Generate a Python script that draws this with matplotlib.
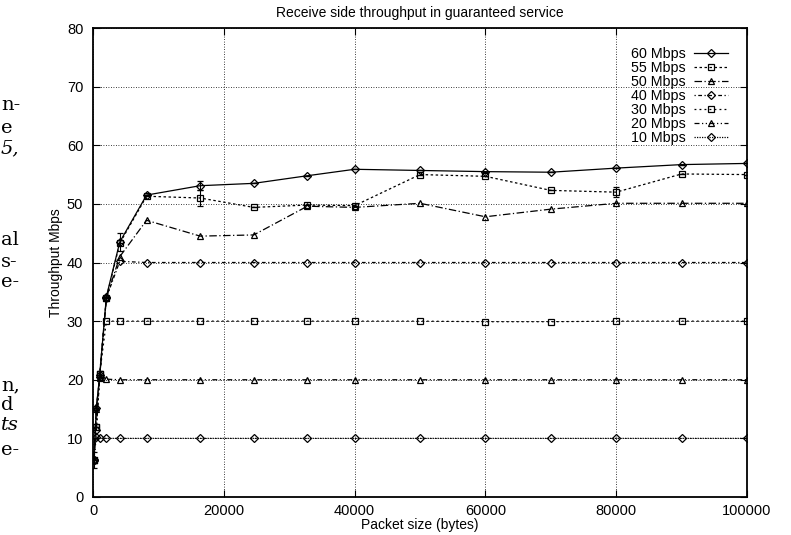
import numpy as np
import matplotlib
matplotlib.use("Agg")
import matplotlib.pyplot as plt

plt.rcParams['font.family'] = ['Liberation Sans', 'DejaVu Sans']

# packet size (bytes)
packet_size = [128, 512, 1024, 2048, 4096, 8192, 16384, 24576, 32768,
               40000, 50000, 60000, 70000, 80000, 90000, 100000]

# throughput (Mbps) per requested rate
thr_60 = [6.3, 15.2, 20.8, 34.2, 43.5, 51.5, 53.1, 53.5, 54.8,
          55.9, 55.7, 55.5, 55.4, 56.1, 56.7, 56.9]
thr_55 = [6.3, 12.0, 21.0, 34.0, 43.3, 51.3, 51.0, 49.4, 49.8,
          49.7, 55.0, 54.7, 52.3, 52.0, 55.1, 55.0]
thr_50 = [6.3, 15.0, 20.5, 34.0, 41.0, 47.2, 44.5, 44.7, 49.6,
          49.4, 50.1, 47.8, 49.1, 50.1, 50.1, 50.1]
thr_40 = [6.3, 11.5, 20.5, 34.0, 40.2, 40.0, 40.0, 40.0, 40.0,
          40.0, 40.0, 40.0, 40.0, 40.0, 40.0, 40.0]
thr_30 = [6.3, 12.0, 21.0, 30.0, 30.0, 30.0, 30.0, 30.0, 30.0,
          30.0, 30.0, 29.9, 29.9, 30.0, 30.0, 30.0]
thr_20 = [6.3, 15.3, 20.3, 20.1, 20.0, 20.0, 20.0, 20.0, 20.0,
          20.0, 20.0, 20.0, 20.0, 20.0, 20.0, 20.0]
thr_10 = [6.3, 10.3, 10.1, 10.0, 10.0, 10.0, 10.0, 10.0, 10.0,
          10.0, 10.0, 10.0, 10.0, 10.0, 10.0, 10.0]

# error bars
err_60 = [1.3, 0, 0, 0, 1.5, 0, 0.8, 0, 0, 0, 0, 0, 0, 0, 0, 0]
err_55 = [0, 0, 0.5, 0, 0, 0, 1.3, 0, 0, 0, 0, 0, 0, 0.8, 0, 0]

labels = ['60 Mbps', '55 Mbps', '50 Mbps', '40 Mbps', '30 Mbps', '20 Mbps', '10 Mbps']
series = [thr_60, thr_55, thr_50, thr_40, thr_30, thr_20, thr_10]
errors = [err_60, err_55, None, None, None, None, None]
markers = ['D', 's', '^', 'D', 's', '^', 'D']
msizes = [4, 5, 5, 4, 5, 5, 4]
styles = ['-', (0, (2, 2)), (0, (6, 2, 1, 2)), (0, (1, 2, 3, 2)),
          (0, (1.5, 2.5)), (0, (4, 2, 1, 2, 1, 2)), (0, (1, 1))]

fig = plt.figure(figsize=(7.91, 5.35), dpi=100)
ax = fig.add_axes([93/791, 1 - 497/535, (747 - 93)/791, (497 - 28)/535])

handles = []
for y, e, lab, m, ms, ls in zip(series, errors, labels, markers, msizes, styles):
    c = ax.errorbar(packet_size, y, yerr=e, label=lab, color='black',
                    linestyle=ls, linewidth=0.9, marker=m, markersize=ms,
                    markerfacecolor='none', markeredgewidth=0.9,
                    ecolor='black', elinewidth=0.8, capsize=2.5)
    handles.append(c[0])

ax.set_xlim(0, 100000)
ax.set_ylim(0, 80)
ax.set_xticks([0, 20000, 40000, 60000, 80000, 100000])
ax.set_yticks(range(0, 81, 10))
ax.grid(True, color='black', linestyle=(0, (1, 2)), linewidth=0.6)
ax.tick_params(direction='in', top=True, right=True, labelsize=10.5,
               length=5, width=0.8)
ax.tick_params(axis='y', pad=7)
ax.tick_params(axis='x', pad=5)
for s in ax.spines.values():
    s.set_linewidth(1.3)

ax.set_title('Receive side throughput in guaranteed service', fontsize=10, pad=8)
ax.set_xlabel('Packet size (bytes)', fontsize=10, labelpad=0)
ax.set_ylabel('Throughput Mbps', fontsize=10, labelpad=3)

leg = ax.legend(handles, labels, loc='upper right', frameon=False,
                markerfirst=False, fontsize=10.3, labelspacing=0.0,
                handlelength=2.4, handletextpad=0.6, borderaxespad=0.9)

# fragments of neighbouring page text at the left edge
frags = [("n-", 105), ("e", 128), ("5,", 148), ("al", 240),
         ("s-", 262), ("e-", 282), ("n,", 385), ("d", 405),
         ("ts", 425), ("e-", 450)]
for t, py in frags:
    fig.text(1/791, 1 - py/535, t, family='DejaVu Serif', fontsize=14,
             ha='left', va='center',
             style='italic' if t in ('5,', 'ts') else 'normal')

fig.savefig('out.png', dpi=100)
